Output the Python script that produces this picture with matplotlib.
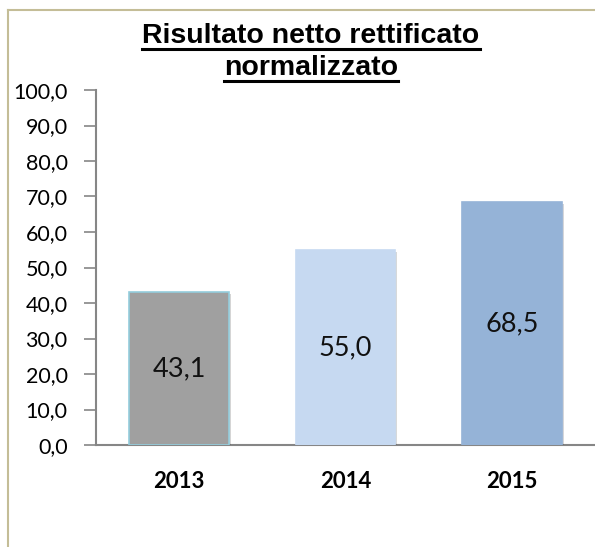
import matplotlib
matplotlib.use("Agg")
import matplotlib.pyplot as plt
from matplotlib import patheffects
from matplotlib.lines import Line2D

years = ["2013", "2014", "2015"]
values = [43.1, 55.0, 68.5]
value_labels = ["43,1", "55,0", "68,5"]
y_ticks = [0, 10, 20, 30, 40, 50, 60, 70, 80, 90, 100]
y_tick_labels = ["0,0", "10,0", "20,0", "30,0", "40,0", "50,0", "60,0", "70,0", "80,0", "90,0", "100,0"]
title_lines = ["Risultato netto rettificato", "normalizzato"]

bar_colors = ["#a0a0a0", "#c6d9f1", "#95b3d7"]
edge_colors = ["#93cddd", "#c6d9f1", "#95b3d7"]
axis_gray = "#868686"
frame_color = "#c4bd97"

W, H = 595, 547
fig = plt.figure(figsize=(W / 100, H / 100), dpi=100)
ax = fig.add_axes([96 / W, 1 - 445 / H, 1 - 96 / W, (445 - 90) / H])

bars = ax.bar(range(len(years)), values, width=0.6, color=bar_colors,
              edgecolor=edge_colors, linewidth=1.2, zorder=3)
for bar in bars:
    bar.set_path_effects([patheffects.SimplePatchShadow(offset=(1.5, -1.5), alpha=0.2),
                          patheffects.Normal()])

for i, (v, lab) in enumerate(zip(values, value_labels)):
    ax.text(i, v / 2, lab, ha="center", va="center", fontsize=19.5,
            family="Lato", color="#111111", zorder=4)

ax.set_xlim(-0.5, 2.5)
ax.set_ylim(0, 100)
ax.set_yticks(y_ticks)
ax.set_yticklabels(y_tick_labels, family="Lato", fontsize=15.5)
ax.set_xticks(range(len(years)))
ax.set_xticklabels(years, family="Lato", fontsize=16, fontweight="bold")
ax.tick_params(axis="y", direction="out", length=9, width=1.2, color=axis_gray, pad=11.5)
ax.tick_params(axis="x", length=0, pad=19)
for side in ["top", "right"]:
    ax.spines[side].set_visible(False)
for side in ["left", "bottom"]:
    ax.spines[side].set_color(axis_gray)
    ax.spines[side].set_linewidth(1.5)
ax.patch.set_alpha(0)

# outer frame (left and top edges only visible)
fig.add_artist(Line2D([8 / W, 8 / W], [0, 1 - 10 / H], color=frame_color, lw=1.5))
fig.add_artist(Line2D([8 / W, 1], [1 - 10 / H, 1 - 10 / H], color=frame_color, lw=1.5))

# underlined two-line title
renderer = fig.canvas.get_renderer()
for line, yb, yu in zip(title_lines, [43, 75], [48.5, 80.5]):
    t = fig.text(311 / W, 1 - yb / H, line, ha="center", va="baseline",
                 fontsize=20.5, fontweight="bold", family="Liberation Sans")
    bb = t.get_window_extent(renderer)
    fig.add_artist(Line2D([bb.x0 / W, bb.x1 / W], [1 - yu / H, 1 - yu / H],
                          color="black", lw=2.2))

fig.savefig("out.png", dpi=100)
